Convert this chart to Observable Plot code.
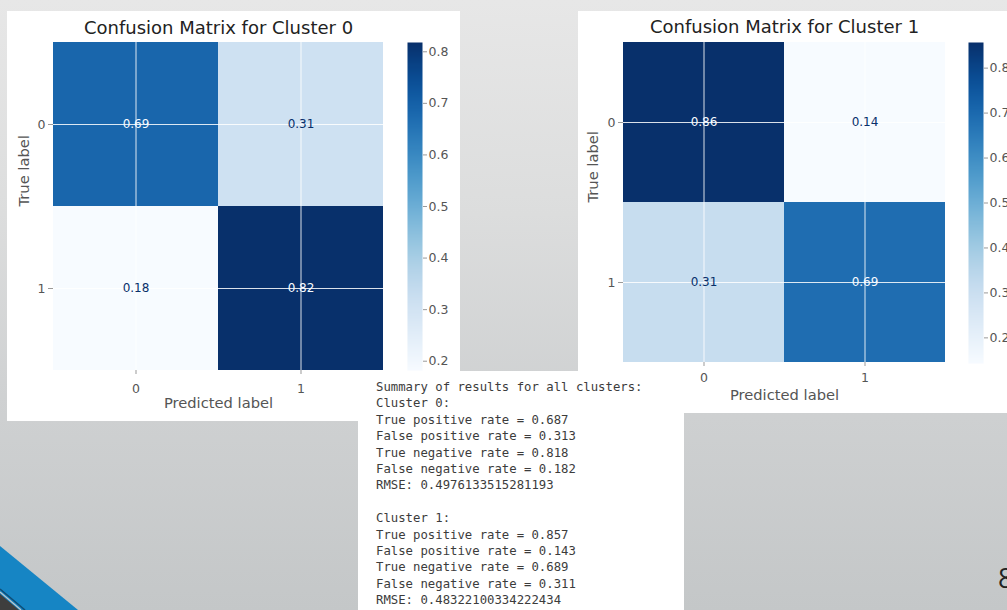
<!DOCTYPE html>
<html><head><meta charset="utf-8">
<script src="https://cdn.jsdelivr.net/npm/d3@7"></script>
<script src="https://cdn.jsdelivr.net/npm/@observablehq/plot@0.6"></script>
<style>
html,body{margin:0;padding:0;}
body{width:1007px;height:610px;overflow:hidden;position:relative;
  background:linear-gradient(180deg,#e7e7e7 0%,#dcdddd 35%,#cfd1d2 65%,#c4c7c8 100%);
  font-family:"DejaVu Sans",sans-serif;}
.abs{position:absolute;}
.abs svg{display:block;max-width:none;overflow:visible;}
#summary{margin:0;box-sizing:border-box;background:#fff;padding:8px 0 0 18px;
  font-family:"DejaVu Sans Mono",monospace;font-size:12.3px;line-height:16.4px;color:#3c3c3c;white-space:pre;}
</style></head><body>
<svg class="abs" style="left:0;top:0" width="1007" height="610">
  <polygon points="0,546 78,610 0,610" fill="#1685c4"/>
  <line x1="0" y1="589" x2="25" y2="610" stroke="#0f4d75" stroke-width="1.5"/>
  <line x1="0" y1="592" x2="21" y2="610" stroke="#c8c8c8" stroke-width="1.2"/>
  <polygon points="0,594 19,610 0,610" fill="#3e3e3e"/>
  <text x="998" y="588" font-family="Open Sans, Liberation Sans, sans-serif" font-size="27" fill="#222">8</text>
</svg>
<div class="abs" style="left:7px;top:11px;width:453px;height:410px;background:#fff"></div>
<div class="abs" style="left:578px;top:11px;width:429px;height:402px;background:#fff"></div>
<div id="hm0" class="abs" style="left:7px;top:11px"></div>
<div id="cb0" class="abs" style="left:400px;top:11px"></div>
<div id="hm1" class="abs" style="left:578px;top:11px"></div>
<div id="cb1" class="abs" style="left:961px;top:11px"></div>
<pre id="summary" class="abs" style="left:358px;top:371px;width:326px;height:239px"></pre>
<script>
// ---- data ----
const classLabels = ["0", "1"];
const clusterTitles = ["Confusion Matrix for Cluster 0", "Confusion Matrix for Cluster 1"];
// row-major: [true0-pred0, true0-pred1, true1-pred0, true1-pred1]
const cmCluster0 = [0.687, 0.313, 0.182, 0.818];
const cmCluster1 = [0.857, 0.143, 0.311, 0.689];
const colorbarTicks = [0.2, 0.3, 0.4, 0.5, 0.6, 0.7, 0.8];
const tprValues = ["0.687", "0.857"];
const fprValues = ["0.313", "0.143"];
const tnrValues = ["0.818", "0.689"];
const fnrValues = ["0.182", "0.311"];
const rmseValues = ["0.4976133515281193", "0.48322100334222434"];

const fmt = d3.format(".2f");
const baseStyle = {fontFamily: "DejaVu Sans", fontSize: "12.5px", color: "#555", background: "transparent", overflow: "visible"};

function heatmap(values, title, o) {
  const data = [];
  classLabels.forEach((t, i) => classLabels.forEach((p, j) => data.push({t, p, v: values[i * 2 + j]})));
  const [lo, hi] = d3.extent(values);
  const thr = (lo + hi) / 2;
  return Plot.plot({
    width: o.W, height: o.H, marginLeft: o.ml, marginRight: o.mr, marginTop: o.mt, marginBottom: o.mb,
    style: baseStyle,
    x: {domain: classLabels, padding: 0},
    y: {domain: classLabels, padding: 0},
    color: {type: "linear", scheme: "blues", domain: [lo, hi]},
    marks: [
      Plot.cell(data, {x: "p", y: "t", fill: "v", inset: 0}),
      Plot.gridX({stroke: "white", strokeOpacity: 0.85, strokeWidth: 1}),
      Plot.gridY({stroke: "white", strokeOpacity: 0.85, strokeWidth: 1}),
      Plot.text(data.filter(d => d.v > thr), {x: "p", y: "t", text: d => fmt(d.v), fill: "#f7fbff", fontSize: 12}),
      Plot.text(data.filter(d => d.v <= thr), {x: "p", y: "t", text: d => fmt(d.v), fill: "#08306b", fontSize: 12}),
      Plot.axisX({anchor: "bottom", tickSize: 4, tickPadding: o.xpad, label: null, stroke: "#999"}),
      Plot.axisY({anchor: "left", tickSize: 5, tickPadding: 3, label: null, stroke: "#999"}),
      Plot.text([title], {frameAnchor: "top", lineAnchor: "middle", text: d => d, dy: o.titleDy, fontSize: 18, fill: "#222"}),
      Plot.text(["Predicted label"], {frameAnchor: "bottom", lineAnchor: "middle", text: d => d, dy: o.xlabDy, fontSize: 14.7, fill: "#555"}),
      Plot.text(["True label"], {frameAnchor: "left", lineAnchor: "middle", text: d => d, dx: o.ylabDx, rotate: -90, fontSize: 14.7, fill: "#555"})
    ]
  });
}

function colorbar(values, o) {
  const [lo, hi] = d3.extent(values);
  return Plot.plot({
    width: o.W, height: o.H, marginLeft: o.ml, marginRight: o.mr, marginTop: o.mt, marginBottom: o.mb,
    style: baseStyle,
    x: {domain: [0, 1], axis: null},
    y: {domain: [lo, hi]},
    color: {type: "linear", scheme: "blues", domain: [lo, hi]},
    marks: [
      Plot.raster({x1: 0, x2: 1, y1: lo, y2: hi, width: 1, height: 320, fill: (x, y) => y, imageRendering: "auto"}),
      Plot.axisY(colorbarTicks, {anchor: "right", tickSize: 4, tickPadding: 2, tickFormat: ".1f", label: null, stroke: "#999"})
    ]
  });
}

document.getElementById("hm0").append(heatmap(cmCluster0, clusterTitles[0],
  {W: 453, H: 410, ml: 46, mr: 77, mt: 31, mb: 51, xpad: 10, titleDy: -14, xlabDy: 33, ylabDx: -29}));
document.getElementById("cb0").append(colorbar(cmCluster0,
  {W: 60, H: 410, ml: 7, mr: 38, mt: 31, mb: 51}));
document.getElementById("hm1").append(heatmap(cmCluster1, clusterTitles[1],
  {W: 429, H: 402, ml: 45, mr: 62, mt: 31, mb: 51, xpad: 7, titleDy: -15, xlabDy: 33, ylabDx: -30}));
document.getElementById("cb1").append(colorbar(cmCluster1,
  {W: 46, H: 402, ml: 7, mr: 24, mt: 31, mb: 50}));

const lines = ["Summary of results for all clusters:"];
[0, 1].forEach(i => {
  if (i > 0) lines.push("");
  lines.push(`Cluster ${i}:`);
  lines.push(`True positive rate = ${tprValues[i]}`);
  lines.push(`False positive rate = ${fprValues[i]}`);
  lines.push(`True negative rate = ${tnrValues[i]}`);
  lines.push(`False negative rate = ${fnrValues[i]}`);
  lines.push(`RMSE: ${rmseValues[i]}`);
});
document.getElementById("summary").textContent = lines.join("\n");
</script>
</body></html>
